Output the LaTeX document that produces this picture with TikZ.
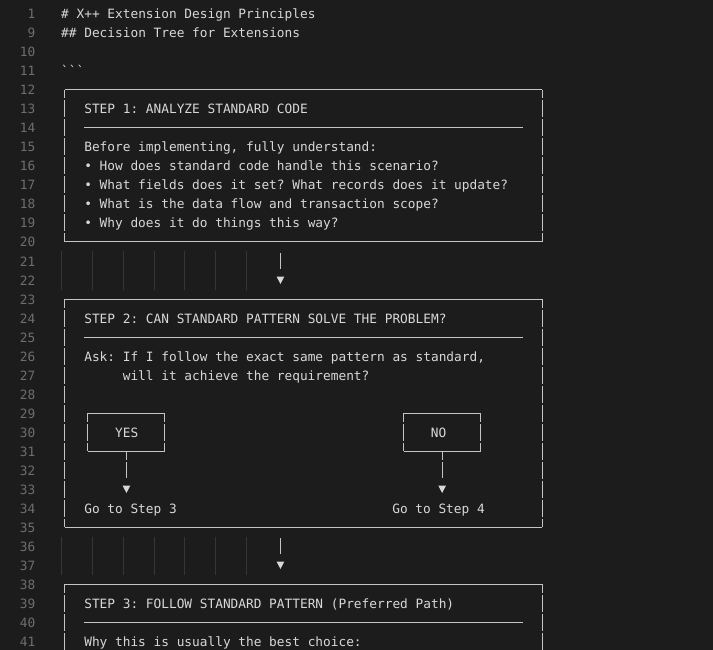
\documentclass[tikz,border=0pt]{standalone}
\usepackage{fontspec}
\newfontfamily\code{DejaVu Sans Mono}
\definecolor{bg}{HTML}{1C1C1C}
\definecolor{fg}{HTML}{D8D8D8}
\definecolor{lnc}{HTML}{6E6E6E}
\definecolor{bxc}{HTML}{C4C4C0}
\definecolor{guidec}{HTML}{363636}
\newcommand\gboxx[4]{%
  \pgfmathsetmacro\yt{33+(#3-9)*19}%
  \pgfmathsetmacro\yb{33+(#4-9)*19}%
  \draw[bx] (#1,\yt) -- (#2,\yt);
  \draw[bx] (#1,\yb) -- (#2,\yb);
  \draw[bx] (#1,\yt) -- (#1,\yt+8.5) (#2,\yt) -- (#2,\yt+8.5);
  \draw[bx] (#1,\yb-8.5) -- (#1,\yb) (#2,\yb-8.5) -- (#2,\yb);
  \pgfmathtruncatemacro\na{#3+1}\pgfmathtruncatemacro\nb{#4-1}%
  \foreach \n in {\na,...,\nb}{%
    \pgfmathsetmacro\yc{33+(\n-9)*19}%
    \draw[bx] (#1,\yc-8.5) -- (#1,\yc+8.5) (#2,\yc-8.5) -- (#2,\yc+8.5);
  }%
}
\newcommand\dnarrow[3]{% x, line of bar, name
  \pgfmathsetmacro\ya{33+(#2-9)*19}%
  \pgfmathsetmacro\yv{33+(#2-8)*19}%
  \draw[bx, line width=1.2pt] (#1,\ya-8) -- (#1,\ya+8);
  \fill[fg] (#1-3.8,\yv-3.3) -- (#1+3.8,\yv-3.3) -- (#1,\yv+4) -- cycle;
  \coordinate (#3) at (#1,\yv);
}
\begin{document}
\begin{tikzpicture}[x=1pt,y=-1pt,
  mono/.style={font=\code\fontsize{12.8}{15}\selectfont\frenchspacing},
  txt/.style={mono, anchor=base west, inner sep=0pt, text=fg},
  lnum/.style={mono, anchor=base east, inner sep=0pt, text=lnc},
  bx/.style={draw=bxc, line width=1pt},
  sep/.style={draw=bxc, line width=1pt},
  guide/.style={draw=guidec, line width=0.8pt}]
\fill[bg] (0,0) rectangle (713,650);
\useasboundingbox (0,0) rectangle (713,650);

% line numbers
\node[lnum] (ln1) at (35.5,19) {1};
\foreach \n in {9,...,41}{%
  \pgfmathsetmacro\yy{33+(\n-9)*19+5}%
  \node[lnum] (ln\n) at (35.5,\yy) {\n};
}

% header text
\node[txt] (h1) at (61,19) {\#\ X++ Extension Design Principles};
\node[txt] (h2) at (61,38) {\#\#\ Decision Tree for Extensions};
\node[txt] (fence) at (61,76) {\symbol{96}\symbol{96}\symbol{96}};

% indent guides
\foreach \k in {0,...,6}{%
  \draw[guide] ({61.5+30.8*\k},251.5) -- ++(0,38);
  \draw[guide] ({61.5+30.8*\k},536.5) -- ++(0,38);
}

% ---- Box 1 (lines 12-20)
\gboxx{64.85}{542.25}{12}{20}
\node[txt] (s1) at (84.1,114) {STEP 1: ANALYZE STANDARD CODE};
\draw[sep] (84.1,128) -- (523,128);
\node[txt] (s1a) at (84.1,152) {Before implementing, fully understand:};
\node[txt] (s1b) at (84.1,171) {• How does standard code handle this scenario?};
\node[txt] (s1c) at (84.1,190) {• What fields does it set? What records does it update?};
\node[txt] (s1d) at (84.1,209) {• What is the data flow and transaction scope?};
\node[txt] (s1e) at (84.1,228) {• Why does it do things this way?};

\dnarrow{280.45}{21}{a1}

% ---- Box 2 (lines 23-35)
\gboxx{64.85}{542.25}{23}{35}
\node[txt] (s2) at (84.1,323) {STEP 2: CAN STANDARD PATTERN SOLVE THE PROBLEM?};
\draw[sep] (84.1,337) -- (523,337);
\node[txt] (s2a) at (84.1,361) {Ask: If I follow the exact same pattern as standard,};
\node[txt] (s2b) at (122.6,380) {will it achieve the requirement?};

% YES box
\gboxx{87.95}{164.95}{29}{31}
\node[txt] (yes) at (114.9,437) {YES};
\draw[bx] (126.45,451) -- (126.45,459.5);
\dnarrow{126.45}{32}{y1}
\node[txt] (go3) at (84.1,513) {Go to Step 3};

% NO box
\gboxx{403.65}{480.65}{29}{31}
\node[txt] (no) at (430.6,437) {NO};
\draw[bx] (442.15,451) -- (442.15,459.5);
\dnarrow{442.15}{32}{n1}
\node[txt] (go4) at (392.1,513) {Go to Step 4};

\dnarrow{280.45}{36}{a2}

% ---- Box 3 (line 38 onward)
\draw[bx] (64.85,584) -- (542.25,584);
\draw[bx] (64.85,584) -- (64.85,592.5) (542.25,584) -- (542.25,592.5);
\foreach \n in {39,40,41}{%
  \pgfmathsetmacro\yc{33+(\n-9)*19}%
  \draw[bx] (64.85,\yc-8.5) -- (64.85,\yc+8.5) (542.25,\yc-8.5) -- (542.25,\yc+8.5);
}
\node[txt] (s3) at (84.1,608) {STEP 3: FOLLOW STANDARD PATTERN (Preferred Path)};
\draw[sep] (84.1,622) -- (523,622);
\node[txt] (s3a) at (84.1,646) {Why this is usually the best choice:};
\end{tikzpicture}
\end{document}
